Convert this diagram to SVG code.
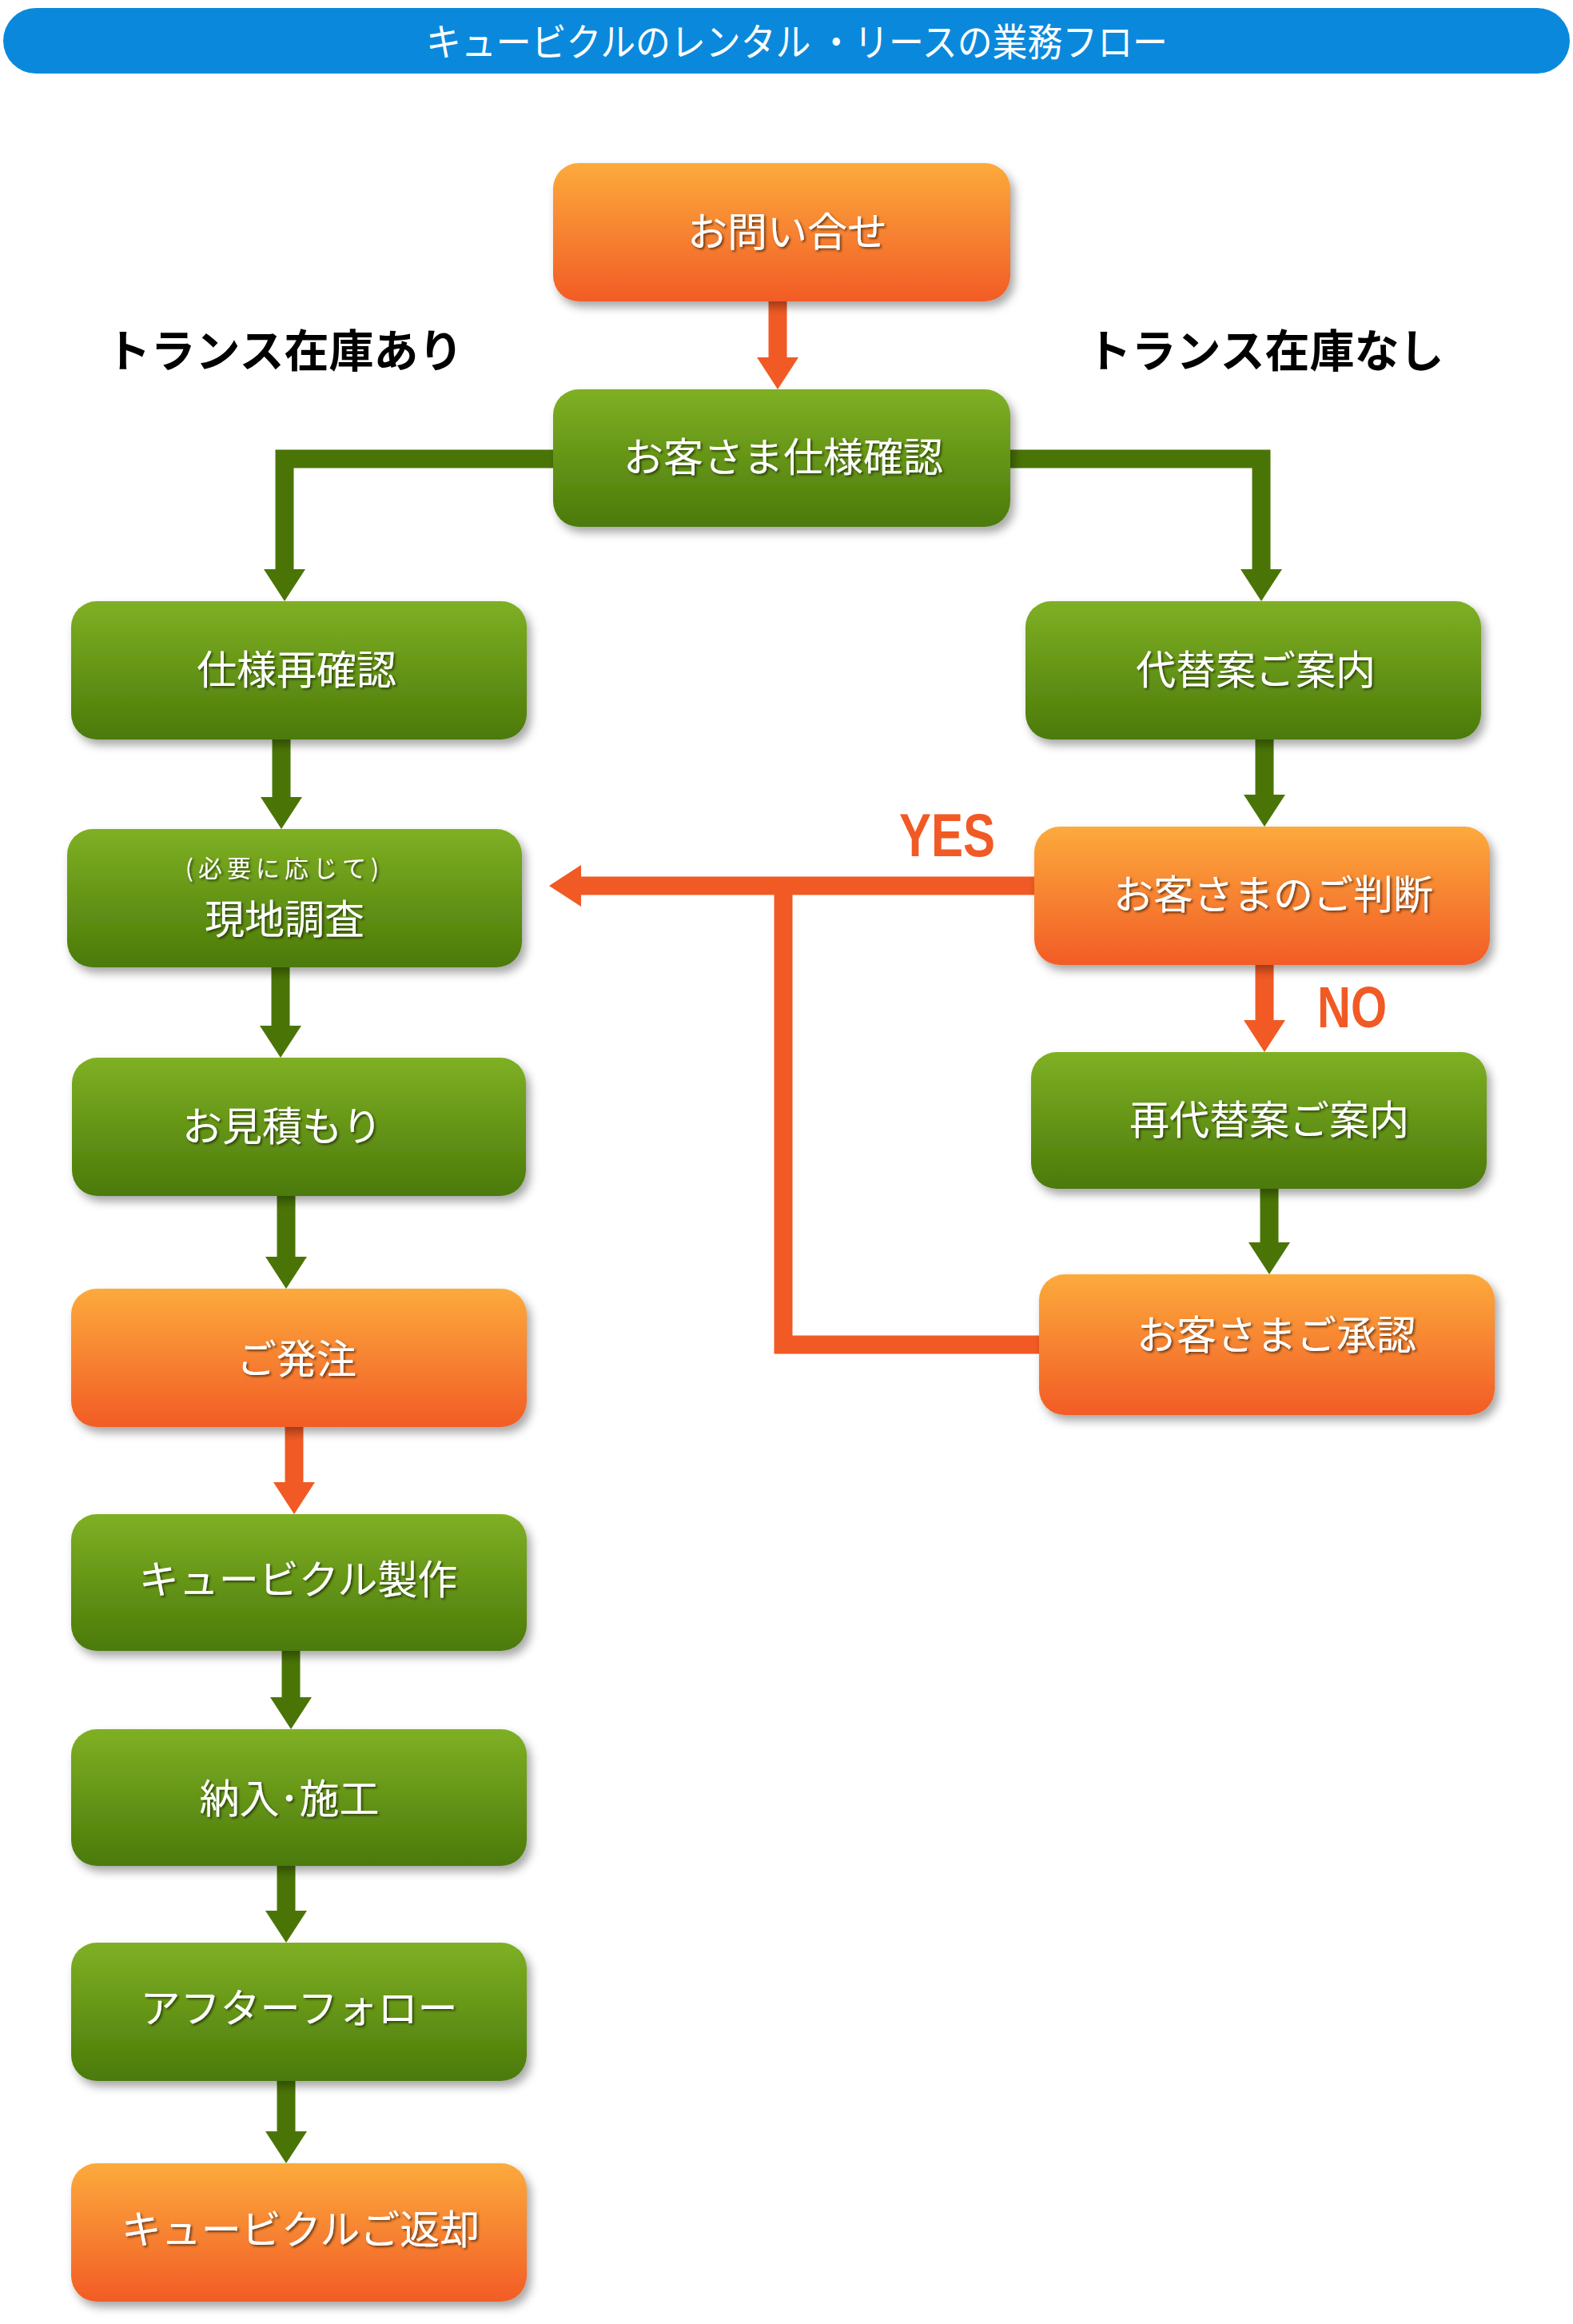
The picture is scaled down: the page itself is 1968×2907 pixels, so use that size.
<svg xmlns="http://www.w3.org/2000/svg" width="1968" height="2907" viewBox="0 0 1968 2907">
<defs>
<linearGradient id="gOr" x1="0" y1="0" x2="0" y2="1">
<stop offset="0" stop-color="#fcaa3c"/>
<stop offset="1" stop-color="#f25c26"/>
</linearGradient>
<linearGradient id="gGr" x1="0" y1="0" x2="0" y2="1">
<stop offset="0" stop-color="#7fb024"/>
<stop offset="1" stop-color="#4b7a09"/>
</linearGradient>
<filter id="sh" x="-10%" y="-20%" width="125%" height="150%">
<feDropShadow dx="5" dy="7" stdDeviation="6" flood-color="#000" flood-opacity="0.35"/>
</filter>
<filter id="tsh" x="-10%" y="-30%" width="120%" height="160%">
<feDropShadow dx="2" dy="2" stdDeviation="1.5" flood-color="#000" flood-opacity="0.55"/>
</filter>
<marker id="hG" viewBox="0 0 40 52" refX="0" refY="26" markerWidth="40" markerHeight="52" markerUnits="userSpaceOnUse" orient="auto">
<path d="M0,0 L40,26 L0,52 Z" fill="#4a7506"/>
</marker>
<marker id="hO" viewBox="0 0 40 52" refX="0" refY="26" markerWidth="40" markerHeight="52" markerUnits="userSpaceOnUse" orient="auto">
<path d="M0,0 L40,26 L0,52 Z" fill="#f15a24"/>
</marker>
</defs>
<style>
.or{fill:url(#gOr);filter:url(#sh)}
.gr{fill:url(#gGr);filter:url(#sh)}
.lb{font-family:"Noto Sans CJK JP","Noto Sans",sans-serif;font-size:50px;fill:#ffffff;text-anchor:middle;dominant-baseline:central;filter:url(#tsh)}
.sm{font-size:30px;letter-spacing:6px}
.hd{font-family:"Noto Sans CJK JP","Noto Sans",sans-serif;font-size:56px;font-weight:bold;fill:#000;text-anchor:middle;dominant-baseline:central}
.yn{font-family:"Liberation Sans","Noto Sans",sans-serif;font-weight:bold;fill:#f15a24}
.cg{fill:none;stroke:#4a7506;stroke-width:23;marker-end:url(#hG)}
.co{fill:none;stroke:#f15a24;stroke-width:23}
.coa{marker-end:url(#hO)}
</style>
<rect width="1968" height="2907" fill="#ffffff"/>
<g id="title">
<rect x="4" y="10" width="1960" height="82" rx="41" fill="#0a89dc"/>
<text x="997" y="49" font-family="Noto Sans CJK JP, sans-serif" font-size="48" fill="#ffffff" text-anchor="middle" dominant-baseline="central" textLength="928" lengthAdjust="spacingAndGlyphs">キュービクルのレンタル ・リースの業務フロー</text>
</g>
<g id="headers">
<text class="hd" x="356" y="434">トランス在庫あり</text>
<text class="hd" x="1583" y="434">トランス在庫なし</text>
</g>
<g id="connectors">
<path class="co coa" d="M973,377 V447"/>
<path class="cg" d="M692,574 H356 V712"/>
<path class="cg" d="M1264,574 H1578 V712"/>
<path class="cg" d="M352,925 V997"/>
<path class="cg" d="M351,1210 V1283"/>
<path class="cg" d="M358,1496 V1572"/>
<path class="co coa" d="M368,1785 V1854"/>
<path class="cg" d="M364,2065 V2123"/>
<path class="cg" d="M358,2334 V2390"/>
<path class="cg" d="M358,2603 V2666"/>
<path class="cg" d="M1582,925 V994"/>
<path class="co coa" d="M1582,1207 V1276"/>
<path class="cg" d="M1588,1487 V1554"/>
<path class="co coa" d="M1294,1108 H727"/>
<path class="co" d="M1300,1682 H980 V1108"/>
<text class="yn" x="1125" y="1071" font-size="76" textLength="120" lengthAdjust="spacingAndGlyphs">YES</text>
<text class="yn" x="1648" y="1285" font-size="73" textLength="87" lengthAdjust="spacingAndGlyphs">NO</text>
</g>
<g id="n1"><rect class="or" x="692" y="204" width="572" height="173" rx="32"/><text class="lb" x="985" y="286">お問い合せ</text></g>
<g id="n2"><rect class="gr" x="692" y="487" width="572" height="172" rx="32"/><text class="lb" x="980" y="568">お客さま仕様確認</text></g>
<g id="n3"><rect class="gr" x="89" y="752" width="570" height="173" rx="32"/><text class="lb" x="371" y="834">仕様再確認</text></g>
<g id="n4"><rect class="gr" x="84" y="1037" width="569" height="173" rx="32"/><text class="lb sm" x="356" y="1084">(必要に応じて)</text><text class="lb" x="356" y="1146">現地調査</text></g>
<g id="n5"><rect class="gr" x="90" y="1323" width="568" height="173" rx="32"/><text class="lb" x="353" y="1405">お見積もり</text></g>
<g id="n6"><rect class="or" x="89" y="1612" width="570" height="173" rx="32"/><text class="lb" x="371" y="1696">ご発注</text></g>
<g id="n7"><rect class="gr" x="89" y="1894" width="570" height="171" rx="32"/><text class="lb" x="373" y="1972">キュービクル製作</text></g>
<g id="n8"><rect class="gr" x="89" y="2163" width="570" height="171" rx="32"/><text class="lb" x="362" y="2246">納入･施工</text></g>
<g id="n9"><rect class="gr" x="89" y="2430" width="570" height="173" rx="32"/><text class="lb" x="374" y="2508">アフターフォロー</text></g>
<g id="n10"><rect class="or" x="89" y="2706" width="570" height="173" rx="32"/><text class="lb" x="376" y="2785">キュービクルご返却</text></g>
<g id="n11"><rect class="gr" x="1283" y="752" width="570" height="173" rx="32"/><text class="lb" x="1571" y="834">代替案ご案内</text></g>
<g id="n12"><rect class="or" x="1294" y="1034" width="570" height="173" rx="32"/><text class="lb" x="1593" y="1115">お客さまのご判断</text></g>
<g id="n13"><rect class="gr" x="1290" y="1316" width="570" height="171" rx="32"/><text class="lb" x="1588" y="1397">再代替案ご案内</text></g>
<g id="n14"><rect class="or" x="1300" y="1594" width="570" height="176" rx="32"/><text class="lb" x="1597" y="1666">お客さまご承認</text></g>
</svg>
